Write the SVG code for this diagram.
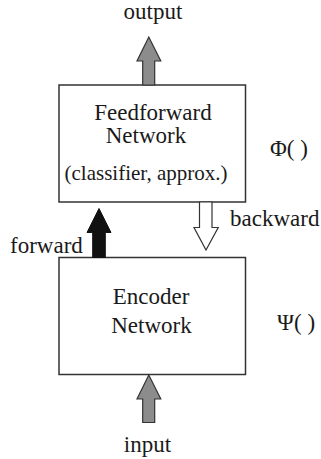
<svg xmlns="http://www.w3.org/2000/svg" width="321" height="459" viewBox="0 0 321 459">
<style>
text{font-family:"Liberation Serif","Times New Roman",serif;font-size:23px;fill:#1a1a1a}
.sm{font-size:21px}
.box{fill:#fff;stroke:#333;stroke-width:1.5}
.g{fill:#8c8c8c;stroke:#333;stroke-width:1.2;stroke-linejoin:miter}
.b{fill:#111;stroke:#111;stroke-width:1}
.w{fill:#fff;stroke:#333;stroke-width:1.2}
</style>
<rect width="321" height="459" fill="#fff"/>
<g id="feedforward">
<rect class="box" x="59" y="85" width="186.5" height="117"/>
<text x="153" y="119.5" text-anchor="middle">Feedforward</text>
<text x="146" y="143" text-anchor="middle">Network</text>
<text class="sm" x="146" y="179.5" text-anchor="middle">(classifier, approx.)</text>
</g>
<g id="encoder">
<rect class="box" x="59" y="257.5" width="186.5" height="117"/>
<text x="151" y="303.5" text-anchor="middle">Encoder</text>
<text x="151.5" y="332.5" text-anchor="middle">Network</text>
</g>
<g id="labels">
<text x="153" y="18.5" text-anchor="middle">output</text>
<text x="147.5" y="451.5" text-anchor="middle">input</text>
<text x="10" y="252.5">forward</text>
<text x="230" y="226">backward</text>
<text x="270" y="156">Φ( )</text>
<text x="277" y="330">Ψ( )</text>
</g>
<g id="connectors">
<polygon class="g" points="142.7,85 142.7,61 137,61 148.8,37 160.8,61 154.7,61 154.7,85"/>
<polygon class="g" points="142.7,422.5 142.7,399 137,399 148.8,375 160.8,399 154.7,399 154.7,422.5"/>
<polygon class="b" points="92.7,257.5 92.7,232.5 87,232.5 99,208.5 111,232.5 105.3,232.5 105.3,257.5"/>
<polygon class="w" points="199.5,202 199.5,227.5 194,227.5 206,250 218.2,227.5 212,227.5 212,202"/>
</g>
</svg>
